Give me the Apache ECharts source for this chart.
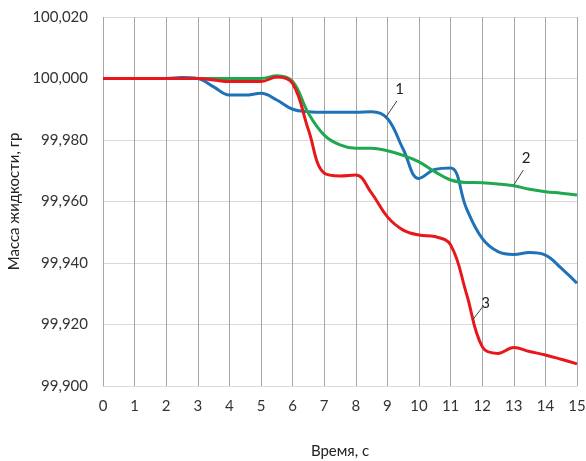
<!DOCTYPE html>
<html>
<head>
<meta charset="utf-8">
<script src="https://cdn.jsdelivr.net/npm/echarts@6/dist/echarts.min.js"></script>
<style>
  html, body { margin: 0; padding: 0; background: #fff; }
  #chart { width: 586px; height: 461px; }
</style>
</head>
<body>
<div id="chart"></div>
<script>
// время, с (шаг 0,5)
var times = [0, 0.5, 1, 1.5, 2, 2.5, 3, 3.5, 4, 4.5, 5, 5.5, 6, 6.5, 7, 7.5, 8, 8.5, 9, 9.5, 10, 10.5, 11, 11.5, 12, 12.5, 13, 13.5, 14, 14.5, 15];
// кривая 1 (синяя)
var mass1 = [100, 100, 100, 100, 100, 100.0003, 100, 99.9973, 99.9946, 99.9946, 99.9952, 99.993, 99.990, 99.9892, 99.989, 99.989, 99.989, 99.9892, 99.987, 99.977, 99.9675, 99.9704, 99.9709, 99.9578, 99.948, 99.9437, 99.9428, 99.9434, 99.9426, 99.9383, 99.9334];
// кривая 2 (зелёная)
var mass2 = [100, 100, 100, 100, 100, 100, 100, 100, 100, 100, 100, 100.0009, 99.999, 99.9887, 99.9816, 99.9784, 99.9773, 99.9773, 99.9765, 99.975, 99.9729, 99.9697, 99.967, 99.9662, 99.9661, 99.9657, 99.9651, 99.964, 99.9632, 99.9627, 99.9621];
// кривая 3 (красная)
var mass3 = [100, 100, 100, 100, 100, 100, 100, 99.9995, 99.999, 99.999, 99.999, 100.0005, 99.9984, 99.9833, 99.9692, 99.9683, 99.9686, 99.9627, 99.955, 99.9507, 99.9491, 99.9486, 99.9459, 99.9301, 99.9128, 99.9106, 99.9125, 99.9112, 99.9101, 99.9087, 99.9072];
var yTicks = ['99,900', '99,920', '99,940', '99,960', '99,980', '100,000', '100,020'];

function pairs(ys) {
  return times.map(function (t, i) { return [t, ys[i]]; });
}

// выноски с номерами кривых
function leader(name, from, to) {
  return {
    symbol: 'none',
    silent: true,
    lineStyle: { color: '#404040', width: 1, type: 'solid' },
    label: { show: true, position: 'end', formatter: name, color: '#222', fontSize: 15, fontFamily: 'Lato' },
    data: [[{ coord: from }, { coord: to }]]
  };
}

var chart = echarts.init(document.getElementById('chart'));
chart.setOption({
  animation: false,
  grid: { left: 103, right: 9, top: 17, bottom: 75, outerBoundsMode: 'none' },
  xAxis: {
    type: 'value',
    min: 0, max: 15, interval: 1,
    name: 'Время, с',
    nameLocation: 'middle',
    nameGap: 58,
    nameTextStyle: { fontSize: 15, color: '#222', fontFamily: 'Lato' },
    axisLine: { show: true, lineStyle: { color: '#d9d9d9' } },
    axisTick: { show: false },
    axisLabel: { fontSize: 15, color: '#333', margin: 13, fontFamily: 'Lato' },
    splitLine: { show: true, lineStyle: { color: '#a6a6a6', width: 1 } }
  },
  yAxis: {
    type: 'value',
    min: 99.9, max: 100.02, interval: 0.02,
    name: 'Масса жидкости, гр',
    nameLocation: 'middle',
    nameGap: 77,
    nameTextStyle: { fontSize: 15, color: '#222', fontFamily: 'Lato' },
    axisLine: { show: false },
    axisTick: { show: false },
    axisLabel: {
      fontSize: 15, color: '#333', margin: 15, fontFamily: 'Lato',
      formatter: function (v) { return yTicks[Math.round((v - 99.9) / 0.02)]; }
    },
    splitLine: { show: true, lineStyle: { color: '#d9d9d9', width: 1 } }
  },
  series: [
    {
      name: '1', type: 'line', data: pairs(mass1), smooth: 0.4, showSymbol: false,
      lineStyle: { color: '#1f72b8', width: 3 },
      markLine: leader('1', [8.96, 99.9875], [9.3, 99.9927])
    },
    {
      name: '2', type: 'line', data: pairs(mass2), smooth: 0.4, showSymbol: false,
      lineStyle: { color: '#1fa84f', width: 3 },
      markLine: leader('2', [13.0, 99.9654], [13.3, 99.9702])
    },
    {
      name: '3', type: 'line', data: pairs(mass3), smooth: 0.4, showSymbol: false,
      lineStyle: { color: '#e8171b', width: 3 },
      markLine: leader('3', [11.7, 99.9215], [12.01, 99.9257])
    }
  ]
});
</script>
</body>
</html>
